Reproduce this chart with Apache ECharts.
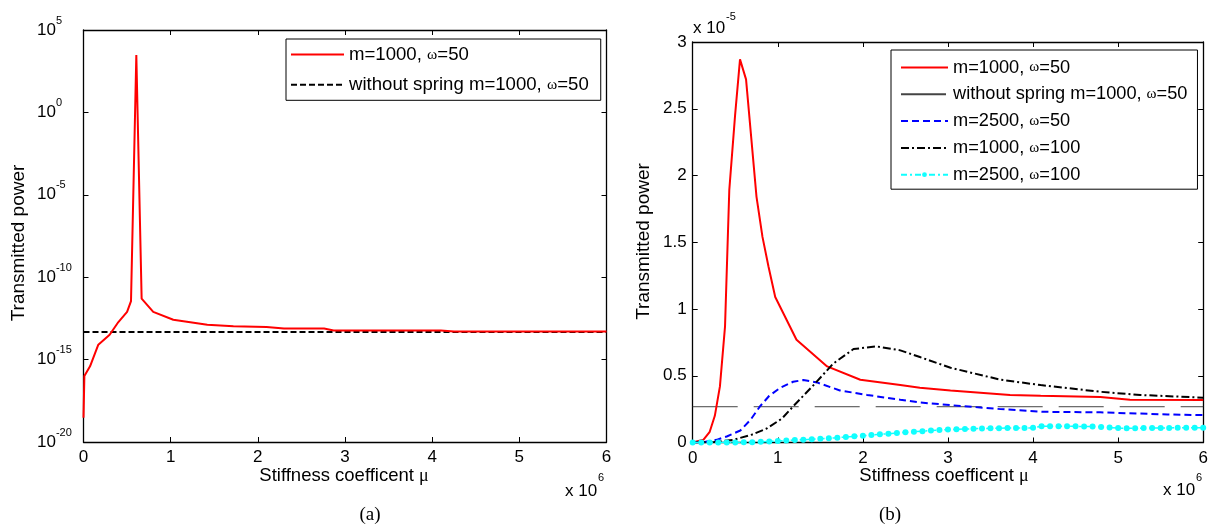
<!DOCTYPE html>
<html>
<head>
<meta charset="utf-8">
<script src="https://cdn.jsdelivr.net/npm/echarts@6/dist/echarts.min.js"></script>
<style>
html,body{margin:0;padding:0;background:#fff;}
#chart{width:1217px;height:530px;}
</style>
</head>
<body>
<div id="chart"></div>
<script>
// ---------- data (x in units of 10^6) ----------
const xTicks = [0, 1, 2, 3, 4, 5, 6];
const yTicksB = [0, 0.5, 1, 1.5, 2, 2.5, 3];

// (a) log panel
const aRedX = [0, 0.01, 0.075, 0.17, 0.3, 0.4, 0.5, 0.545, 0.606, 0.667, 0.8, 1.03, 1.42, 1.72, 2.1, 2.3, 2.76, 2.87, 4.1, 4.25, 6];
const aRedY = [3e-19, 1e-16, 3.9e-16, 8e-15, 3.2e-14, 1.9e-13, 7.8e-13, 3.5e-12, 3e3, 5e-12, 7.8e-13, 2.6e-13, 1.3e-13, 1.05e-13, 9.5e-14, 7.6e-14, 7.6e-14, 5.9e-14, 5.9e-14, 5.1e-14, 5.1e-14];
const aBaseX = [0, 6];
const aBaseY = [4.7e-14, 4.7e-14];

// (b) linear panel (units of 10^-5)
const bRedX = [0, 0.125, 0.2, 0.26, 0.32, 0.38, 0.43, 0.498, 0.556, 0.627, 0.75, 0.82, 0.89, 0.97, 1.22, 1.58, 1.97, 2.44, 2.67, 3.03, 3.73, 4.09, 4.79, 5.14, 6];
const bRedY = [0, 0.02, 0.08, 0.2, 0.42, 0.87, 1.89, 2.45, 2.87, 2.72, 1.84, 1.54, 1.32, 1.09, 0.77, 0.57, 0.47, 0.43, 0.41, 0.39, 0.356, 0.35, 0.34, 0.32, 0.318];
const bBaseX = [0, 6];
const bBaseY = [0.268, 0.268];
const bBlueX = [0, 0.15, 0.28, 0.4, 0.56, 0.68, 0.79, 0.9, 1.03, 1.18, 1.3, 1.46, 1.73, 2.05, 2.44, 2.67, 3.03, 3.62, 4.12, 4.79, 5.58, 6];
const bBlueY = [0, 0.005, 0.02, 0.045, 0.09, 0.17, 0.27, 0.35, 0.41, 0.455, 0.468, 0.45, 0.39, 0.356, 0.32, 0.3, 0.28, 0.25, 0.23, 0.226, 0.21, 0.205];
const bBlackX = [0, 0.25, 0.48, 0.7, 0.87, 1.05, 1.18, 1.3, 1.42, 1.65, 1.89, 2.16, 2.44, 2.67, 3.03, 3.62, 4.09, 4.79, 5.26, 6];
const bBlackY = [0, 0.003, 0.02, 0.06, 0.105, 0.18, 0.27, 0.35, 0.43, 0.59, 0.70, 0.72, 0.69, 0.64, 0.56, 0.47, 0.43, 0.38, 0.356, 0.336];
const bCyanX = [0,0.1,0.2,0.3,0.4,0.5,0.6,0.7,0.8,0.9,1.0,1.1,1.2,1.3,1.4,1.5,1.6,1.7,1.8,1.9,2.0,2.1,2.2,2.3,2.4,2.5,2.6,2.7,2.8,2.9,3.0,3.1,3.2,3.3,3.4,3.5,3.6,3.7,3.8,3.9,4.0,4.1,4.2,4.3,4.4,4.5,4.6,4.7,4.8,4.9,5.0,5.1,5.2,5.3,5.4,5.5,5.6,5.7,5.8,5.9,6.0];
const bCyanY = [0,0,0,0,0,0,0.001,0.002,0.005,0.008,0.012,0.015,0.018,0.021,0.024,0.028,0.032,0.036,0.041,0.046,0.051,0.056,0.061,0.066,0.071,0.076,0.081,0.085,0.089,0.093,0.097,0.099,0.101,0.103,0.105,0.106,0.107,0.108,0.108,0.109,0.11,0.122,0.122,0.122,0.122,0.121,0.12,0.119,0.116,0.112,0.108,0.107,0.107,0.108,0.108,0.109,0.109,0.11,0.11,0.11,0.11];

// legend labels
const labels = {
  a1: 'm=1000, {w|ω}=50',
  a2: 'without spring m=1000, {w|ω}=50',
  b1: 'm=1000, {w|ω}=50',
  b2: 'without spring m=1000, {w|ω}=50',
  b3: 'm=2500, {w|ω}=50',
  b4: 'm=1000, {w|ω}=100',
  b5: 'm=2500, {w|ω}=100'
};

const zip = (xs, ys) => xs.map((x, i) => [x, ys[i]]);
const SANS = 'Liberation Sans, Arial, sans-serif';
const SERIF = 'Liberation Serif, Times New Roman, serif';
const FS = 17;

function xAx(grid, pos, show) {
  return {
    type: 'value', gridIndex: grid, position: pos, min: 0, max: 6, interval: 1,
    axisLine: {show: true, onZero: false, lineStyle: {color: '#000', width: 1.3}},
    axisTick: {show: true, inside: true, length: 5, lineStyle: {color: '#000'}},
    axisLabel: {show: show, color: '#000', fontFamily: SANS, fontSize: FS, margin: 7},
    splitLine: {show: false}
  };
}
function yLog(grid, pos, show) {
  return {
    type: 'log', logBase: 10, gridIndex: grid, position: pos, min: 1e-20, max: 1e5, interval: 5,
    axisLine: {show: true, onZero: false, lineStyle: {color: '#000', width: 1.3}},
    axisTick: {show: true, inside: true, length: 5, lineStyle: {color: '#000'}},
    minorTick: {show: false},
    axisLabel: {
      show: show, margin: 46.5, align: 'left', color: '#000',
      formatter: v => '{b|10}{e|' + Math.round(Math.log10(v)) + '}',
      rich: {
        b: {fontFamily: SANS, fontSize: FS, lineHeight: 30, verticalAlign: 'middle', color: '#000'},
        e: {fontFamily: SANS, fontSize: 11, lineHeight: 11, verticalAlign: 'top', color: '#000'}
      }
    },
    splitLine: {show: false}
  };
}
function yLin(grid, pos, show) {
  return {
    type: 'value', gridIndex: grid, position: pos, min: 0, max: 3, interval: 0.5,
    axisLine: {show: true, onZero: false, lineStyle: {color: '#000', width: 1.3}},
    axisTick: {show: true, inside: true, length: 5, lineStyle: {color: '#000'}},
    axisLabel: {show: show, color: '#000', fontFamily: SANS, fontSize: FS, margin: 6},
    splitLine: {show: false}
  };
}

function legendText(fs) {
  return {
    color: '#000', fontFamily: SANS, fontSize: fs, lineHeight: 16,
    rich: {w: {fontFamily: SERIF, fontSize: fs - 3, lineHeight: 16, color: '#000'}}
  };
}
const noDot = {opacity: 0};

const option = {
  animation: false,
  backgroundColor: '#fff',
  grid: [
    {left: 83.5, top: 30, width: 523, height: 412},
    {left: 692.7, top: 42, width: 510.5, height: 400.5}
  ],
  xAxis: [xAx(0, 'bottom', true), xAx(0, 'top', false), xAx(1, 'bottom', true), xAx(1, 'top', false)],
  yAxis: [yLog(0, 'left', true), yLog(0, 'right', false), yLin(1, 'left', true), yLin(1, 'right', false)],
  legend: [
    {
      orient: 'vertical', left: 286, top: 39, itemWidth: 53, itemHeight: 6, itemGap: 11.3,
      padding: [6, 12, 6, 4], borderColor: '#000', borderWidth: 1, borderRadius: 0, backgroundColor: '#fff',
      selectedMode: false,
      data: [{name: 'a1', itemStyle: noDot}, {name: 'a2', itemStyle: noDot}],
      formatter: n => labels[n], textStyle: legendText(18.6)
    },
    {
      orient: 'vertical', left: 891, top: 50, itemWidth: 47, itemHeight: 6, itemGap: 8.8,
      padding: [8.5, 10, 5.5, 9], borderColor: '#000', borderWidth: 1, borderRadius: 0, backgroundColor: '#fff',
      selectedMode: false,
      data: [{name: 'b1', itemStyle: noDot}, {name: 'b2', itemStyle: noDot}, {name: 'b3', itemStyle: noDot}, {name: 'b4', itemStyle: noDot}, {name: 'b5'}],
      formatter: n => labels[n], textStyle: legendText(18.2)
    }
  ],
  series: [
    {name: 'a2', type: 'line', xAxisIndex: 0, yAxisIndex: 0, data: zip(aBaseX, aBaseY), symbol: 'none',
     lineStyle: {color: '#000', width: 2, type: [6, 3]}, z: 2},
    {name: 'a1', type: 'line', xAxisIndex: 0, yAxisIndex: 0, data: zip(aRedX, aRedY), symbol: 'none',
     lineStyle: {color: '#ff0000', width: 2}, z: 3},
    {name: 'b2', type: 'line', xAxisIndex: 2, yAxisIndex: 2, data: zip(bBaseX, bBaseY), symbol: 'none',
     lineStyle: {color: '#444', width: 1, type: [45, 16]}, z: 2},
    {name: 'b1', type: 'line', xAxisIndex: 2, yAxisIndex: 2, data: zip(bRedX, bRedY), symbol: 'none',
     lineStyle: {color: '#ff0000', width: 2}, z: 3},
    {name: 'b3', type: 'line', xAxisIndex: 2, yAxisIndex: 2, data: zip(bBlueX, bBlueY), symbol: 'none',
     lineStyle: {color: '#0000ff', width: 2, type: [7, 4]}, z: 3},
    {name: 'b4', type: 'line', xAxisIndex: 2, yAxisIndex: 2, data: zip(bBlackX, bBlackY), symbol: 'none',
     lineStyle: {color: '#000', width: 2, type: [8, 3, 2, 3]}, z: 3},
    {name: 'b5', type: 'line', xAxisIndex: 2, yAxisIndex: 2, data: zip(bCyanX, bCyanY), symbol: 'circle', symbolSize: 6,
     showSymbol: true, itemStyle: {color: '#11ffff'},
     lineStyle: {color: '#11ffff', width: 1.5, type: [6, 3, 2, 3]}, z: 4}
  ],
  graphic: [
    {type: 'text', x: 18.5, y: 243, rotation: Math.PI / 2,
     style: {text: 'Transmitted power', font: '19px ' + SANS, fill: '#000', align: 'center', verticalAlign: 'middle'}},
    {type: 'text', x: 644, y: 241.5, rotation: Math.PI / 2,
     style: {text: 'Transmitted power', font: '19px ' + SANS, fill: '#000', align: 'center', verticalAlign: 'middle'}},
    {type: 'text', x: 344, y: 476,
     style: {text: 'Stiffness coefficent {m|μ}', font: '18.5px ' + SANS, fill: '#000', align: 'center', verticalAlign: 'middle',
             rich: {m: {fontFamily: SERIF, fontSize: 18, fill: '#000'}}}},
    {type: 'text', x: 944, y: 476,
     style: {text: 'Stiffness coefficent {m|μ}', font: '18.5px ' + SANS, fill: '#000', align: 'center', verticalAlign: 'middle',
             rich: {m: {fontFamily: SERIF, fontSize: 18, fill: '#000'}}}},
    {type: 'text', x: 565, y: 491, style: {text: 'x 10', font: FS + 'px ' + SANS, fill: '#000', align: 'left', verticalAlign: 'middle'}},
    {type: 'text', x: 598, y: 478, style: {text: '6', font: '11px ' + SANS, fill: '#000', align: 'left', verticalAlign: 'middle'}},
    {type: 'text', x: 1163, y: 490, style: {text: 'x 10', font: FS + 'px ' + SANS, fill: '#000', align: 'left', verticalAlign: 'middle'}},
    {type: 'text', x: 1196, y: 478, style: {text: '6', font: '11px ' + SANS, fill: '#000', align: 'left', verticalAlign: 'middle'}},
    {type: 'text', x: 693, y: 28, style: {text: 'x 10', font: FS + 'px ' + SANS, fill: '#000', align: 'left', verticalAlign: 'middle'}},
    {type: 'text', x: 726, y: 17, style: {text: '-5', font: '11px ' + SANS, fill: '#000', align: 'left', verticalAlign: 'middle'}},
    {type: 'text', x: 370, y: 515, style: {text: '(a)', font: '19px ' + SERIF, fill: '#000', align: 'center', verticalAlign: 'middle'}},
    {type: 'text', x: 890, y: 515, style: {text: '(b)', font: '19px ' + SERIF, fill: '#000', align: 'center', verticalAlign: 'middle'}}
  ]
};

const chart = echarts.init(document.getElementById('chart'), null, {renderer: 'canvas'});
chart.setOption(option);
</script>
</body>
</html>
